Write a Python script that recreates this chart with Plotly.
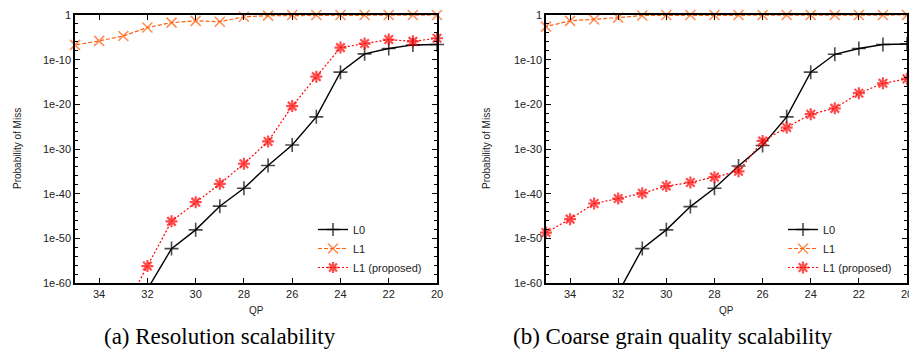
import plotly.graph_objects as go

# ---- data (log10 of probability of miss) ----
qp = [20, 21, 22, 23, 24, 25, 26, 27, 28, 29, 30, 31, 32, 33, 34, 35]

# (a) Resolution scalability
a_l0 = [-6.6, -6.7, -7.5, -8.7, -12.8, -22.8, -29.1, -33.7, -38.8, -42.8, -48.1, -52.3, -61.4]
a_l1 = [0, 0, 0, 0, 0, 0, 0, -0.15, -0.4, -1.5, -1.3, -1.7, -2.8, -4.7, -5.8, -6.7]
a_l1p = [-5.2, -5.9, -5.5, -6.4, -7.3, -13.8, -20.4, -28.3, -33.3, -37.8, -41.9, -46.2, -56.2, -66.3]

# (b) Coarse grain quality scalability
b_l0 = [-6.5, -6.6, -7.5, -8.8, -12.8, -22.8, -29.2, -33.8, -38.8, -42.9, -48.1, -52.3, -62.2]
b_l1 = [0, 0, 0, 0, 0, 0, 0, 0, 0, 0, 0, -0.1, -0.6, -1.0, -1.3, -2.6]
b_l1p = [-14.3, -15.3, -17.5, -20.9, -22.2, -25.2, -28.2, -35.0, -36.3, -37.5, -38.3, -39.9, -41.1, -42.2, -45.7, -48.7]

ytick_exp = [0, -10, -20, -30, -40, -50, -60]
ytick_text = ["1", "1e-10", "1e-20", "1e-30", "1e-40", "1e-50", "1e-60"]
xticks = [34, 32, 30, 28, 26, 24, 22, 20]
captions = ["(a) Resolution scalability", "(b) Coarse grain quality scalability"]
names = ["L0", "L1", "L1 (proposed)"]

BLACK = "#000000"
ORANGE = "#ff6010"
RED = "#ff0000"

# page body has an 8px margin; the figure is sized to fill the rest of the window
OFF = 8
W, H = 917 - OFF, 351 - OFF
fig = go.Figure()


def px_x(p):
    return (p - OFF) / W


def px_y(p):
    return 1 - (p - OFF) / H


panels = [
    dict(data=[a_l0, a_l1, a_l1p], xax="x", yax="y", legend="legend",
         dom=(75, 437), ylab_x=17),
    dict(data=[b_l0, b_l1, b_l1p], xax="x2", yax="y2", legend="legend2",
         dom=(546, 907), ylab_x=486),
]

styles = [
    dict(color=BLACK, dash="solid", symbol="cross-thin-open", size=10, mlw=1.6, lw=1.4),
    dict(color=ORANGE, dash="4px,2px", symbol="x-thin-open", size=10, mlw=1.6, lw=1.2),
    dict(color=RED, dash="2px,2px", symbol="asterisk-open", size=10, mlw=2.2, lw=1.2),
]

for pi, pan in enumerate(panels):
    for si, series in enumerate(pan["data"]):
        st = styles[si]
        xs = qp[:len(series)]
        ys = [10 ** v for v in series]
        sizes = [st["size"] if v >= -60.5 else 0 for v in series]
        fig.add_trace(go.Scatter(
            x=xs, y=ys, name=names[si], mode="lines+markers",
            xaxis=pan["xax"], yaxis=pan["yax"], legend=pan["legend"],
            cliponaxis=False,
            line=dict(color=st["color"], dash=st["dash"], width=st["lw"]),
            marker=dict(symbol=st["symbol"], size=sizes,
                        line=dict(color=st["color"], width=st["mlw"]),
                        color=st["color"]),
        ))

y0, y1 = 15, 283
axis_common_x = dict(
    range=[35, 20], tickvals=xticks, ticks="inside", ticklen=5, tickwidth=1,
    tickcolor="black", showline=True, linecolor="black", linewidth=1.5,
    mirror="ticks", showgrid=False, zeroline=False, automargin=False,
    tickfont=dict(family="Liberation Sans", size=11, color="#222"),
)
minor_vals = [10 ** -e for e in range(0, 61, 2) if e % 10 != 0]
axis_common_y = dict(
    type="log", range=[-60, 0], tickvals=[10 ** e for e in ytick_exp],
    ticktext=ytick_text, ticks="inside", ticklen=5, tickwidth=1,
    tickcolor="black", showline=True, linecolor="black", linewidth=1.5,
    mirror="ticks", showgrid=False, zeroline=False, automargin=False,
    tickfont=dict(family="Liberation Sans", size=11, color="#222"),
    minor=dict(tickvals=minor_vals, ticks="inside", ticklen=3, tickcolor="black",
               showgrid=False),
)

layout = dict(
    width=W, height=H, margin=dict(l=0, r=0, t=0, b=0, autoexpand=False),
    paper_bgcolor="white", plot_bgcolor="white", showlegend=True,
    template="none",
    font=dict(family="Liberation Sans", size=11, color="#222"),
)
annotations = []
for pi, pan in enumerate(panels):
    sx = "" if pi == 0 else "2"
    layout["xaxis" + sx] = dict(axis_common_x, domain=[px_x(pan["dom"][0]), px_x(pan["dom"][1])],
                                anchor="y" + sx)
    layout["yaxis" + sx] = dict(axis_common_y, domain=[px_y(y1), px_y(y0)], anchor="x" + sx)
    layout[pan["legend"]] = dict(
        x=px_x(pan["dom"][1] - 10), y=px_y(y1 - 1), xanchor="right", yanchor="bottom",
        bgcolor="rgba(0,0,0,0)", borderwidth=0, tracegroupgap=0, itemwidth=30,
        font=dict(family="Liberation Sans", size=11, color="#222"),
    )
    cx = (pan["dom"][0] + pan["dom"][1]) / 2
    annotations.append(dict(text="QP", x=px_x(cx), y=px_y(310), xref="paper", yref="paper",
                            xanchor="center", yanchor="middle",
                            showarrow=False, font=dict(size=10, family="Liberation Sans")))
    annotations.append(dict(text="Probability of Miss", x=px_x(pan["ylab_x"]),
                            y=px_y((y0 + y1) / 2), xref="paper", yref="paper",
                            xanchor="center", yanchor="middle",
                            textangle=-90, showarrow=False,
                            font=dict(size=10, family="Liberation Sans")))
    annotations.append(dict(text=captions[pi], x=px_x(220 if pi == 0 else 673), y=px_y(336),
                            xref="paper", yref="paper", showarrow=False,
                            xanchor="center", yanchor="middle",
                            font=dict(size=23, family="Liberation Serif", color="black")))
layout["annotations"] = annotations
fig.update_layout(**layout)

fig.write_html("out.html")
